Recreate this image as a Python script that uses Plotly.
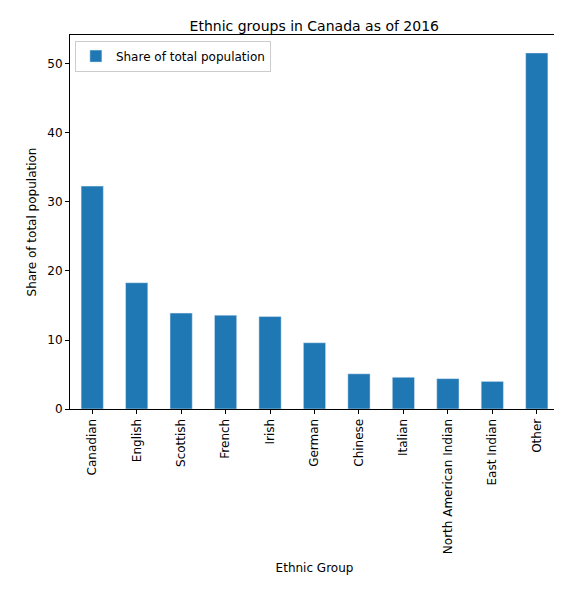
import plotly.graph_objects as go

groups = ["Canadian", "English", "Scottish", "French", "Irish", "German",
          "Chinese", "Italian", "North American Indian", "East Indian", "Other"]
share = [32.3, 18.3, 13.9, 13.6, 13.4, 9.6, 5.1, 4.6, 4.4, 4.0, 51.6]

fig = go.Figure(go.Bar(x=groups, y=share, width=0.5, marker_color="#1f77b4",
                       name="Share of total population", showlegend=True))

axis = dict(showline=True, linecolor="black", mirror=True, ticks="outside",
            ticklen=4, tickcolor="black", showgrid=False, zeroline=False,
            automargin=False)
fig.update_layout(
    width=562, height=597, plot_bgcolor="white", paper_bgcolor="white",
    font=dict(family="DejaVu Sans", size=12, color="black"),
    margin=dict(l=62, r=11, t=27, b=196),
    title=dict(text="Ethnic groups in Canada as of 2016", x=0.545, xanchor="center",
               y=0.97, yanchor="middle", font=dict(size=14)),
    xaxis=dict(axis, range=[-0.5, 10.5], tickangle=-90,
               title=dict(text="Ethnic Group", standoff=10, font=dict(size=12))),
    yaxis=dict(axis, range=[0, 54.2], dtick=10,
               title=dict(text="Share of total population", standoff=8, font=dict(size=12))),
    legend=dict(x=0.01, y=0.985, xanchor="left", yanchor="top",
                bordercolor="#cccccc", borderwidth=1, bgcolor="white"),
)
fig.write_html("out.html")
